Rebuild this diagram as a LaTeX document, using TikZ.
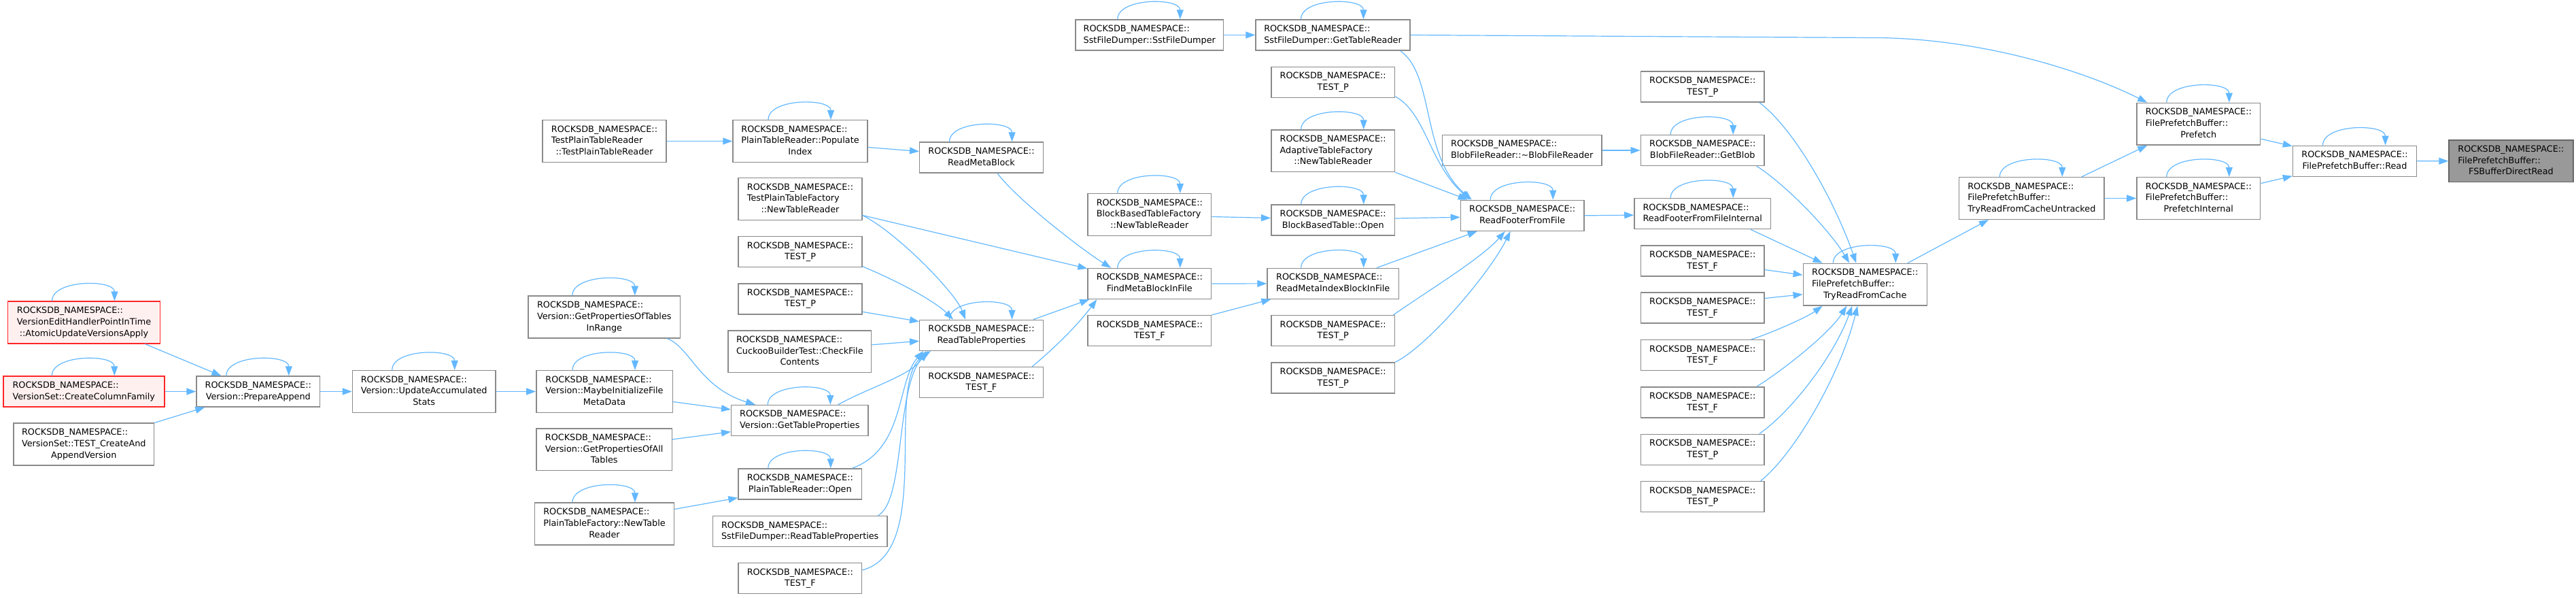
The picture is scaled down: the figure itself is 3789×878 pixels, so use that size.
\documentclass[tikz,border=0pt]{standalone}
\usepackage{fontspec}
\setmainfont{DejaVu Sans}
\usepackage{xcolor}
\usetikzlibrary{arrows.meta}
\definecolor{linkblue}{HTML}{63B8FF}
\definecolor{framegray}{HTML}{8A8A8A}
\definecolor{rootgray}{HTML}{999999}
\definecolor{redfill}{HTML}{FFF0F0}
\newcommand{\twoline}[1]{\begin{tabular}{@{}l@{}}ROCKSDB\_NAMESPACE::\\\multicolumn{1}{@{}c@{}}{#1}\end{tabular}}
\newcommand{\threeline}[2]{\begin{tabular}{@{}l@{}}ROCKSDB\_NAMESPACE::\\#1\\\multicolumn{1}{@{}c@{}}{#2}\end{tabular}}

\begin{document}
\begin{tikzpicture}[x=1pt, y=-1pt,
    box/.style={draw=framegray, line width=1.4pt, fill=white, inner xsep=10pt, inner ysep=5.8pt,
                font=\fontsize{12.8}{16.7}\selectfont},
    rbox/.style={box, draw=red!85!white, fill=redfill},
    root/.style={box, fill=rootgray, draw=black!60},
    arr/.style={-{Triangle[length=14pt, width=10pt]}, linkblue, line width=1.2pt}]
  \useasboundingbox (0,0) rectangle (3789,878);
  % column 1-3
  \node[rbox, minimum width=224] (atomic) at (123.5,474) {\threeline{VersionEditHandlerPointInTime}{::AtomicUpdateVersionsApply}};
  \node[rbox, minimum width=237] (createcf) at (123.3,575.5) {\twoline{VersionSet::CreateColumnFamily}};
  \node[box, minimum width=206.5] (testcreate) at (123.3,653) {\threeline{VersionSet::TEST\_CreateAnd}{AppendVersion}};
  \node[box, minimum width=181.6] (prepappend) at (379.8,575.5) {\twoline{Version::PrepareAppend}};
  \node[box, minimum width=210.6] (updacc) at (623.7,575.5) {\threeline{Version::UpdateAccumulated}{Stats}};
  % column 4
  \node[box, minimum width=182] (tptr) at (889,207.5) {\threeline{TestPlainTableReader}{::TestPlainTableReader}};
  \node[box, minimum width=223.6] (propsrange) at (888.8,466) {\threeline{Version::GetPropertiesOfTables}{InRange}};
  \node[box, minimum width=200.4] (maybeinit) at (889,575.5) {\threeline{Version::MaybeInitializeFile}{MetaData}};
  \node[box, minimum width=199.4] (propsall) at (888.7,660.8) {\threeline{Version::GetPropertiesOfAll}{Tables}};
  \node[box, minimum width=205.3] (ptfnew) at (889,770) {\threeline{PlainTableFactory::NewTable}{Reader}};
  % column 5
  \node[box, minimum width=198] (popidx) at (1177,207.5) {\threeline{PlainTableReader::Populate}{Index}};
  \node[box, minimum width=182] (tptf) at (1177,292.5) {\threeline{TestPlainTableFactory}{::NewTableReader}};
  \node[box, minimum width=182] (testpA) at (1177,370.2) {\twoline{TEST\_P}};
  \node[box, minimum width=182] (testpB) at (1177,439.3) {\twoline{TEST\_P}};
  \node[box, minimum width=210.6] (cuckoo) at (1176.3,516.8) {\threeline{CuckooBuilderTest::CheckFile}{Contents}};
  \node[box, minimum width=201.3] (gettp) at (1176.3,618) {\twoline{Version::GetTableProperties}};
  \node[box, minimum width=181.5] (ptopen) at (1176.8,711.5) {\twoline{PlainTableReader::Open}};
  \node[box, minimum width=256.6] (sstrtp) at (1176.7,781) {\twoline{SstFileDumper::ReadTableProperties}};
  \node[box, minimum width=181.5] (testfA) at (1176.8,850) {\twoline{TEST\_F}};
  % column 6-7
  \node[box, minimum width=181.6] (rmb) at (1443.5,231.5) {\twoline{ReadMetaBlock}};
  \node[box, minimum width=181.6] (rtp) at (1443.5,492.8) {\twoline{ReadTableProperties}};
  \node[box, minimum width=181.6] (testfB) at (1443.5,562.2) {\twoline{TEST\_F}};
  \node[box, minimum width=217.6] (sstdump) at (1690.8,51.5) {\twoline{SstFileDumper::SstFileDumper}};
  \node[box, minimum width=181.6] (bbtf) at (1690.8,315.5) {\threeline{BlockBasedTableFactory}{::NewTableReader}};
  \node[box, minimum width=181.6] (fmbf) at (1690.8,417) {\twoline{FindMetaBlockInFile}};
  \node[box, minimum width=181.6] (testfC) at (1690.8,486.2) {\twoline{TEST\_F}};
  % column 8-9
  \node[box, minimum width=227] (gettr) at (1960.5,51.5) {\twoline{SstFileDumper::GetTableReader}};
  \node[box, minimum width=181.8] (testpC) at (1960.7,120.8) {\twoline{TEST\_P}};
  \node[box, minimum width=181.8] (adapt) at (1960.7,221.8) {\threeline{AdaptiveTableFactory}{::NewTableReader}};
  \node[box, minimum width=181.8] (bbtopen) at (1960.7,323.5) {\twoline{BlockBasedTable::Open}};
  \node[box, minimum width=193.3] (rmib) at (1960.7,416.8) {\twoline{ReadMetaIndexBlockInFile}};
  \node[box, minimum width=181.8] (testpE) at (1960.7,486.2) {\twoline{TEST\_P}};
  \node[box, minimum width=181.8] (testpF) at (1960.7,555.5) {\twoline{TEST\_P}};
  \node[box, minimum width=234.6] (blobdtor) at (2238.7,221) {\twoline{BlobFileReader::\textasciitilde BlobFileReader}};
  \node[box, minimum width=181.6] (rfff) at (2239.2,316.8) {\twoline{ReadFooterFromFile}};
  % column 10
  \node[box, minimum width=181.7] (testpD) at (2504.2,127.5) {\twoline{TEST\_P}};
  \node[box, minimum width=181.7] (getblob) at (2504.2,221) {\twoline{BlobFileReader::GetBlob}};
  \node[box, minimum width=200.6] (rffi) at (2504.2,314.2) {\twoline{ReadFooterFromFileInternal}};
  \node[box, minimum width=181.7] (testfD) at (2504.2,383.5) {\twoline{TEST\_F}};
  \node[box, minimum width=181.7] (testfE) at (2504.2,452.5) {\twoline{TEST\_F}};
  \node[box, minimum width=181.7] (testfF) at (2504.2,522.2) {\twoline{TEST\_F}};
  \node[box, minimum width=181.7] (testfG) at (2504.2,591.5) {\twoline{TEST\_F}};
  \node[box, minimum width=181.7] (testpG) at (2504.2,660.8) {\twoline{TEST\_P}};
  \node[box, minimum width=181.7] (testpH) at (2504.2,730) {\twoline{TEST\_P}};
  % prefetch buffer chain
  \node[box, minimum width=182] (trfc) at (2743.2,418.2) {\threeline{FilePrefetchBuffer::}{TryReadFromCache}};
  \node[box, minimum width=213.4] (trfcu) at (2988.3,291.5) {\threeline{FilePrefetchBuffer::}{TryReadFromCacheUntracked}};
  \node[box, minimum width=181.8] (prefetch) at (3233.8,182.2) {\threeline{FilePrefetchBuffer::}{Prefetch}};
  \node[box, minimum width=181.8] (prefint) at (3233.8,291.5) {\threeline{FilePrefetchBuffer::}{PrefetchInternal}};
  \node[box, minimum width=182] (fpbread) at (3463.5,236.8) {\twoline{FilePrefetchBuffer::Read}};
  \node[root, minimum width=182.7] (fsread) at (3693.4,236.7) {\threeline{FilePrefetchBuffer::}{FSBufferDirectRead}};

  % recursive calls
  \foreach \n in {atomic,createcf,prepappend,updacc,propsrange,maybeinit,gettp,ptopen,ptfnew,
                  popidx,rmb,rtp,sstdump,bbtf,fmbf,gettr,adapt,bbtopen,rmib,rfff,getblob,rffi,
                  trfc,trfcu,prefetch,prefint,fpbread}
    \draw[arr] ([xshift=-47]\n.north) .. controls +(0,-32) and +(0,-32) .. ([xshift=45]\n.north);

  % version side
  \draw[arr] ([xshift=-23]atomic.south east) -- ([xshift=37]prepappend.north west);
  \draw[arr] (createcf) -- (prepappend);
  \draw[arr] (testcreate.north east) -- ([xshift=13]prepappend.south west);
  \draw[arr] (prepappend) -- (updacc);
  \draw[arr] (updacc) -- (maybeinit);
  \draw[arr] ([yshift=-15]maybeinit.east) -- ([yshift=16]gettp.west);
  \draw[arr] ([yshift=15]propsall.east) -- ([yshift=-16.7]gettp.west);
  \draw[arr] ([xshift=-20]propsrange.south east) .. controls +(34,13) and +(-82,-25) .. ([xshift=36]gettp.north west);
  \draw[arr] ([yshift=-10]ptfnew.north east) -- ([yshift=3]ptopen.south west);
  % table readers
  \draw[arr] (tptr) -- (popidx);
  \draw[arr] ([yshift=-9]popidx.east) -- ([yshift=9]rmb.west);
  \draw[arr] ([xshift=-68]rmb.south east) .. controls +(30,40) and +(-40,-25) .. ([xshift=35]fmbf.north west);
  \draw[arr] ([yshift=-24]tptf.east) -- ([yshift=-1]fmbf.north west);
  \draw[arr] ([yshift=-24]tptf.east) .. controls +(50,25) and +(-15,-40) .. ([xshift=68]rtp.north west);
  \draw[arr] ([yshift=-21.5]testpA.east) .. controls +(60,25) and +(-25,-25) .. ([xshift=50]rtp.north west);
  \draw[arr] ([yshift=-19]testpB.east) -- ([yshift=-3]rtp.north west);
  \draw[arr] ([yshift=10]cuckoo.east) -- ([yshift=-8.5]rtp.west);
  \draw[arr] ([xshift=-45]gettp.north east) .. controls +(45,-25) and +(-20,35) .. ([xshift=10]rtp.south west);
  \draw[arr] ([xshift=-15]ptopen.north east) .. controls +(78,-28) and +(-39,45) .. ([xshift=6]rtp.south west);
  \draw[arr] ([xshift=-14]sstrtp.north east) .. controls +(40,-23) and +(-48,55) .. ([xshift=13]rtp.south west);
  \draw[arr] ([yshift=12]testfA.east) .. controls +(107,-28) and +(-70,45) .. ([xshift=17]rtp.south west);
  \draw[arr] ([xshift=-15]rtp.north east) -- ([xshift=3]fmbf.south west);
  \draw[arr] ([xshift=-17]testfB.north east) .. controls +(30,-25) and +(-30,40) .. ([xshift=14]fmbf.south west);
  \draw[arr] (fmbf) -- (rmib);
  \draw[arr] (testfC.north east) -- ([xshift=6]rmib.south west);
  \draw[arr] ([yshift=-3]bbtf.east) -- ([yshift=3]bbtopen.west);
  % footer reading
  \draw[arr] (sstdump) -- (gettr);
  \draw[arr] ([xshift=-15]gettr.south east) .. controls +(51,36) and +(-75,-64) .. ([xshift=17]rfff.north west);
  \draw[arr] ([yshift=-21]testpC.east) .. controls +(45,25) and +(-60,-55) .. ([xshift=14]rfff.north west);
  \draw[arr] (adapt.south east) -- ([xshift=11]rfff.north west);
  \draw[arr] ([yshift=2.5]bbtopen.east) -- ([yshift=-2.5]rfff.west);
  \draw[arr] ([xshift=-33]rmib.north east) -- ([xshift=25]rfff.south west);
  \draw[arr] ([xshift=-3]testpE.north east) .. controls +(50,-35) and +(-35,40) .. ([xshift=66]rfff.south west);
  \draw[arr] (testpF.north east) .. controls +(50,-25) and +(-30,60) .. ([xshift=74]rfff.south west);
  \draw[arr] (blobdtor) -- (getblob);
  \draw[arr] (rfff.east) -- ([yshift=-2]rffi.west);
  % into TryReadFromCache
  \draw[arr] ([xshift=-8]testpD.south east) .. controls +(53,40) and +(-30,-87) .. ([xshift=-13]trfc.north);
  \draw[arr] ([xshift=-12]getblob.south east) .. controls +(40,25) and +(-30,-50) .. ([xshift=-23]trfc.north);
  \draw[arr] ([xshift=-30]rffi.south east) -- ([xshift=29]trfc.north west);
  \draw[arr] ([yshift=-13]testfD.east) -- ([yshift=14]trfc.west);
  \draw[arr] ([yshift=14]testfE.east) -- ([yshift=-14.5]trfc.west);
  \draw[arr] ([xshift=-20]testfF.north east) .. controls +(25,-8) and +(-25,18) .. ([xshift=29]trfc.south west);
  \draw[arr] ([xshift=-12]testfG.north east) .. controls +(40,-25) and +(-25,40) .. ([xshift=-27]trfc.south);
  \draw[arr] ([xshift=-8]testpG.north east) .. controls +(50,-35) and +(-25,70) .. ([xshift=-19]trfc.south);
  \draw[arr] ([xshift=-6]testpH.north east) .. controls +(50,-40) and +(-25,100) .. ([xshift=-11]trfc.south);
  % prefetch buffer chain
  \draw[arr] ([xshift=-29]trfc.north east) -- ([xshift=44]trfcu.south west);
  \draw[arr] ([xshift=-34]trfcu.north east) -- ([xshift=16]prefetch.south west);
  \draw[arr] (trfcu) -- (prefint);
  \draw[arr] (gettr.east) -- ++(680,4) .. controls +(150,0) and +(-100,-50) .. ([xshift=16]prefetch.north west);
  \draw[arr] ([yshift=-22]prefetch.east) -- ([yshift=22]fpbread.west);
  \draw[arr] ([yshift=22]prefint.east) -- ([yshift=-22]fpbread.west);
  \draw[arr] (fpbread) -- (fsread);
\end{tikzpicture}
\end{document}
